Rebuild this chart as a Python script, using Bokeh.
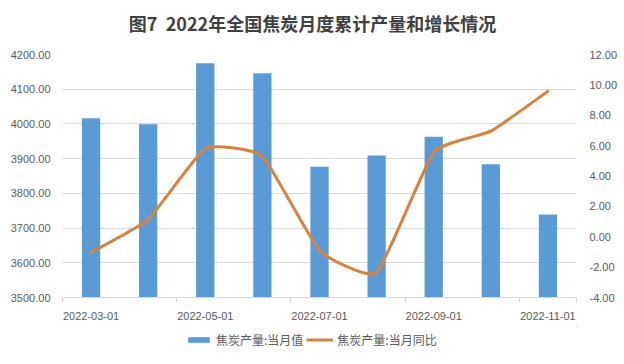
from bokeh.plotting import figure
from bokeh.layouts import column
from bokeh.models import (Range1d, LinearAxis, FixedTicker, NumeralTickFormatter,
                          Legend, LegendItem, Label)
from bokeh.embed import file_html
from bokeh.resources import INLINE

# ---- data ----
months = ["2022-03-01", "2022-04-01", "2022-05-01", "2022-06-01", "2022-07-01",
          "2022-08-01", "2022-09-01", "2022-10-01", "2022-11-01"]
output_value = [4016, 3999, 4175, 4146, 3877, 3909, 3963, 3884, 3739]   # 焦炭产量:当月值
yoy_pct = [-1.03, 1.15, 5.8, 5.3, -0.9, -2.35, 5.56, 6.95, 9.58]        # 焦炭产量:当月同比
left_ticks = [3500, 3600, 3700, 3800, 3900, 4000, 4100, 4200]
right_ticks = [-4, -2, 0, 2, 4, 6, 8, 10, 12]
title_text = "图7\u00a0\u00a02022年全国焦炭月度累计产量和增长情况"
bar_label = "焦炭产量:当月值"
line_label = "焦炭产量:当月同比"

idx = list(range(len(months)))
CJK = "Noto Sans CJK SC"
NUM = "Liberation Sans"
LABEL_COLOR = "#595959"
GRID = "#d9d9d9"
BAR_COLOR = "#5B9BD5"
LINE_COLOR = "#D8823F"


def blank_strip(h):
    f = figure(width=624, height=h, output_backend="svg", toolbar_location=None,
               x_range=Range1d(-20, -19), y_range=Range1d(-20, -19),
               min_border_left=0, min_border_right=0, min_border_top=0,
               min_border_bottom=0)
    f.axis.visible = False
    f.grid.visible = False
    f.outline_line_color = None
    f.border_fill_color = "white"
    return f


# ---- title strip ----
hd = blank_strip(40)
hd.add_layout(Label(x=250, y=18, x_units="screen", y_units="screen", text=title_text,
                    text_align="center", text_baseline="middle",
                    text_font=CJK, text_font_size="18px", text_font_style="bold",
                    text_color="#404040"))

# ---- main chart ----
p = figure(width=624, height=286, output_backend="svg", toolbar_location=None,
           x_range=Range1d(-0.5, len(months) - 0.5),
           y_range=Range1d(left_ticks[0], left_ticks[-1]),
           min_border_left=62, min_border_right=48, min_border_top=14,
           min_border_bottom=29)
p.extra_y_ranges = {"yoy": Range1d(right_ticks[0], right_ticks[-1])}
p.outline_line_color = None
p.background_fill_color = "white"
p.border_fill_color = "white"

# bars
p.vbar(x=idx, top=output_value, bottom=left_ticks[0], width=0.32,
       fill_color=BAR_COLOR, line_color=None)

# lightly smoothed line (cardinal spline via cubic beziers)
k = 1 / 14
n = len(idx)
x0, y0, x1, y1, cx0, cy0, cx1, cy1 = [], [], [], [], [], [], [], []
for i in range(n - 1):
    pa = (idx[i - 1], yoy_pct[i - 1]) if i > 0 else (idx[i], yoy_pct[i])
    pb = (idx[i], yoy_pct[i])
    pc = (idx[i + 1], yoy_pct[i + 1])
    pd = (idx[i + 2], yoy_pct[i + 2]) if i + 2 < n else pc
    x0.append(pb[0]); y0.append(pb[1]); x1.append(pc[0]); y1.append(pc[1])
    cx0.append(pb[0] + (pc[0] - pa[0]) * k); cy0.append(pb[1] + (pc[1] - pa[1]) * k)
    cx1.append(pc[0] - (pd[0] - pb[0]) * k); cy1.append(pc[1] - (pd[1] - pb[1]) * k)
p.bezier(x0=x0, y0=y0, x1=x1, y1=y1, cx0=cx0, cy0=cy0, cx1=cx1, cy1=cy1,
         line_color=LINE_COLOR, line_width=3, line_cap="round", y_range_name="yoy")

# grid
p.xgrid.grid_line_color = None
p.ygrid.grid_line_color = GRID
p.ygrid.grid_line_width = 1

# left axis
ya = p.yaxis[0]
ya.ticker = FixedTicker(ticks=left_ticks)
ya.formatter = NumeralTickFormatter(format="0.00")
ya.axis_line_color = None
ya.major_tick_line_color = None
ya.minor_tick_line_color = None
ya.major_label_text_font = NUM
ya.major_label_text_font_size = "11px"
ya.major_label_text_color = LABEL_COLOR
ya.major_label_standoff = 6

# right axis
ra = LinearAxis(y_range_name="yoy", ticker=FixedTicker(ticks=right_ticks),
                formatter=NumeralTickFormatter(format="0.00"))
ra.axis_line_color = None
ra.major_tick_line_color = None
ra.minor_tick_line_color = None
ra.major_label_text_font = NUM
ra.major_label_text_font_size = "11px"
ra.major_label_text_color = LABEL_COLOR
ra.major_label_standoff = 7
p.add_layout(ra, "right")

# x axis
xa = p.xaxis[0]
xa.ticker = FixedTicker(ticks=idx[::2], minor_ticks=[i - 0.5 for i in idx[::2]] + [idx[-1] + 0.5])
xa.major_label_overrides = {i: months[i] for i in idx[::2]}
xa.axis_line_color = GRID
xa.major_tick_line_color = None
xa.major_tick_out = 0
xa.minor_tick_line_color = GRID
xa.minor_tick_out = 5
xa.minor_tick_in = 0
xa.major_label_text_font = NUM
xa.major_label_text_font_size = "11px"
xa.major_label_text_color = LABEL_COLOR
xa.major_label_standoff = 9

# ---- legend strip (its ranges sit away from the data, so only the legend shows) ----
lg = blank_strip(38)
lb = lg.vbar(x=idx, top=output_value, width=0.32, fill_color=BAR_COLOR, line_color=None)
ll = lg.line(x=idx, y=yoy_pct, line_color=LINE_COLOR, line_width=3)
legend = Legend(items=[LegendItem(label=bar_label, renderers=[lb]),
                       LegendItem(label=line_label, renderers=[ll])],
                orientation="horizontal", location=(123, 16),
                glyph_width=27, glyph_height=7, label_standoff=4, spacing=3,
                padding=0, margin=0, border_line_color=None,
                background_fill_alpha=0,
                label_text_font=CJK, label_text_font_size="12px",
                label_text_color=LABEL_COLOR)
lg.add_layout(legend, "center")

layout = column(hd, p, lg, spacing=0)
open("out.html", "w").write(file_html(layout, INLINE))
